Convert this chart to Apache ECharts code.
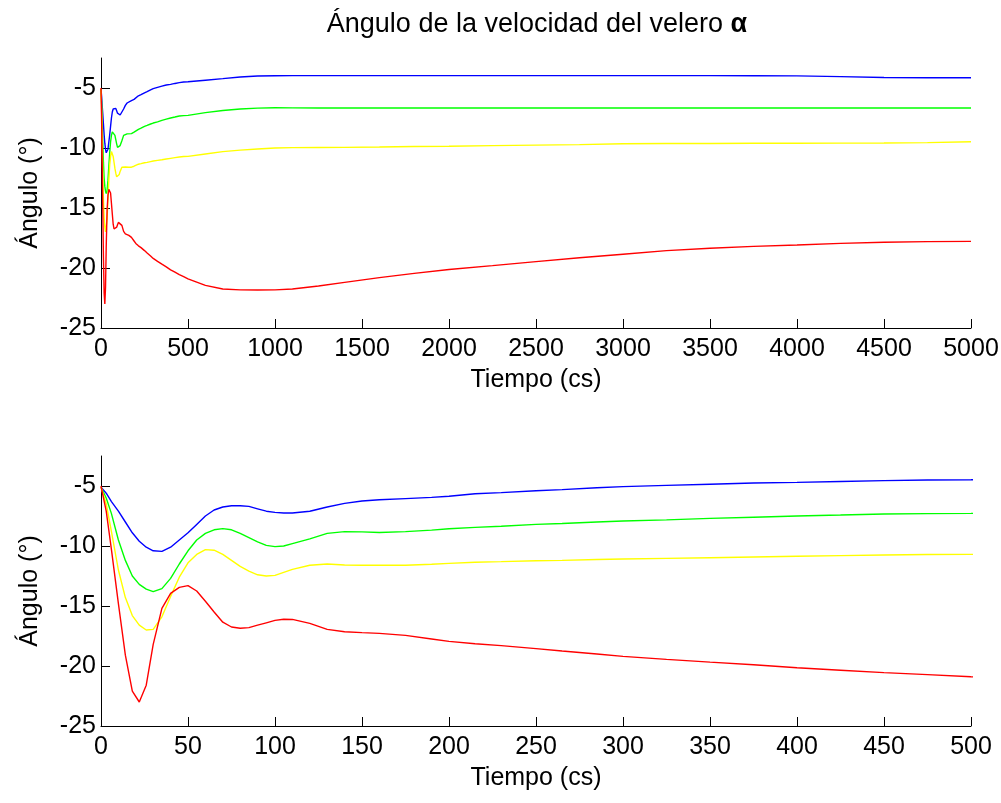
<!DOCTYPE html>
<html>
<head>
<meta charset="utf-8">
<script src="https://cdn.jsdelivr.net/npm/echarts@6/dist/echarts.min.js"></script>
<style>
html,body{margin:0;padding:0;background:#fff;}
#chart{width:1001px;height:803px;}
</style>
</head>
<body>
<div id="chart"></div>
<script>
// time (cs)
const time = [0,3,6,10,14,18,22,26,30,35,40,45,50,55,60,65,70,75,80,85,90,95,100,105,110,120,130,140,150,160,175,190,200,215,230,250,265,285,300,325,350,375,400,425,450,475,500,600,700,800,900,1000,1100,1250,1400,1600,1800,2000,2250,2500,2750,3000,3250,3500,3750,4000,4250,4500,4750,5000];

const blue = [-5.1,-5.6,-6.3,-7.1,-8.0,-8.9,-9.6,-10.1,-10.4,-10.45,-10.1,-9.5,-8.9,-8.2,-7.5,-7.0,-6.75,-6.65,-6.65,-6.7,-6.9,-7.1,-7.2,-7.25,-7.25,-7.1,-6.75,-6.45,-6.25,-6.15,-6.05,-5.95,-5.85,-5.65,-5.55,-5.4,-5.3,-5.15,-5.05,-4.95,-4.85,-4.75,-4.7,-4.62,-4.55,-4.5,-4.48,-4.35,-4.22,-4.08,-4.0,-3.98,-3.97,-3.97,-3.97,-3.97,-3.97,-3.97,-3.97,-3.97,-3.97,-3.97,-3.97,-3.97,-3.98,-3.99,-4.05,-4.12,-4.14,-4.14];

const green = [-5.1,-6.0,-7.3,-9.5,-11.2,-12.5,-13.2,-13.6,-13.8,-13.55,-12.7,-11.5,-10.4,-9.5,-8.95,-8.65,-8.55,-8.65,-8.95,-9.3,-9.65,-9.95,-10.05,-10.0,-9.8,-9.4,-8.95,-8.8,-8.82,-8.88,-8.8,-8.68,-8.56,-8.45,-8.35,-8.2,-8.12,-8.0,-7.92,-7.82,-7.7,-7.6,-7.5,-7.42,-7.33,-7.3,-7.28,-7.05,-6.88,-6.75,-6.68,-6.65,-6.66,-6.67,-6.67,-6.67,-6.67,-6.67,-6.67,-6.67,-6.67,-6.67,-6.67,-6.67,-6.67,-6.67,-6.67,-6.67,-6.67,-6.67];

const yellow = [-5.1,-6.5,-8.8,-12.0,-14.3,-15.8,-16.6,-17.0,-16.95,-15.9,-14.2,-12.6,-11.4,-10.7,-10.3,-10.35,-10.7,-11.2,-11.7,-12.1,-12.4,-12.5,-12.45,-12.2,-11.95,-11.6,-11.5,-11.58,-11.6,-11.6,-11.6,-11.52,-11.45,-11.35,-11.3,-11.23,-11.2,-11.13,-11.08,-11.03,-10.98,-10.92,-10.86,-10.8,-10.75,-10.71,-10.7,-10.5,-10.3,-10.18,-10.08,-10.0,-9.97,-9.96,-9.95,-9.92,-9.88,-9.85,-9.8,-9.76,-9.72,-9.65,-9.63,-9.62,-9.61,-9.6,-9.59,-9.58,-9.55,-9.48];

const red = [-5.0,-7.1,-10.3,-14.8,-19.1,-22.1,-23.0,-21.6,-18.2,-15.2,-13.95,-13.45,-13.3,-13.75,-14.6,-15.5,-16.35,-16.75,-16.85,-16.8,-16.6,-16.4,-16.2,-16.1,-16.12,-16.45,-16.95,-17.15,-17.22,-17.28,-17.45,-17.75,-17.95,-18.15,-18.3,-18.55,-18.75,-19.0,-19.2,-19.45,-19.68,-19.9,-20.15,-20.35,-20.55,-20.72,-20.9,-21.45,-21.75,-21.82,-21.83,-21.82,-21.75,-21.5,-21.2,-20.8,-20.45,-20.12,-19.8,-19.47,-19.15,-18.85,-18.55,-18.35,-18.2,-18.08,-17.95,-17.85,-17.8,-17.78];

const yTicks = [-25,-20,-15,-10,-5];
const xTicksTop = [0,500,1000,1500,2000,2500,3000,3500,4000,4500,5000];
const xTicksBottom = [0,50,100,150,200,250,300,350,400,450,500];

const seriesDefs = [
  {name:'azul', values: blue, color:'#0000ff'},
  {name:'verde', values: green, color:'#00ff00'},
  {name:'amarillo', values: yellow, color:'#ffff00'},
  {name:'rojo', values: red, color:'#ff0000'}
];

const tickFont = "'Liberation Sans', Arial, sans-serif";
const labelFont = "'Liberation Sans', Arial, sans-serif";

function xAxisCfg(idx, ticks){
  return {
    type:'value', gridIndex: idx, min: ticks[0], max: ticks[ticks.length-1],
    name: 'Tiempo (cs)', nameLocation:'middle', nameGap: 40,
    nameTextStyle:{color:'#000', fontFamily: labelFont, fontSize: 25},
    axisLine:{show:true, onZero:false, lineStyle:{color:'#000', width:1}},
    axisTick:{show:true, inside:true, length:9, customValues: ticks, lineStyle:{color:'#000'}},
    axisLabel:{show:true, customValues: ticks, margin:9, color:'#000', fontFamily: tickFont, fontSize: 25,
      formatter: v => String(v)},
    splitLine:{show:false}
  };
}
function yAxisCfg(idx){
  return {
    type:'value', gridIndex: idx, min: -25, max: -2.5,
    name: 'Ángulo (°)', nameLocation:'middle', nameGap: 58,
    nameTextStyle:{color:'#000', fontFamily: labelFont, fontSize: 25},
    axisLine:{show:true, onZero:false, lineStyle:{color:'#000', width:1}},
    axisTick:{show:true, inside:true, length:9, customValues: yTicks, lineStyle:{color:'#000'}},
    axisLabel:{show:true, customValues: yTicks, margin:5, color:'#000', fontFamily: tickFont, fontSize: 25,
      formatter: v => String(v)},
    splitLine:{show:false}
  };
}

const series = [];
[0,1].forEach(g => {
  seriesDefs.forEach(s => {
    series.push({
      type:'line', name: s.name, xAxisIndex: g, yAxisIndex: g,
      data: time.map((t,i)=>[t, s.values[i]]),
      showSymbol:false, symbol:'none', smooth:false, clip:true,
      lineStyle:{color: s.color, width: 1.4},
      itemStyle:{color: s.color},
      animation:false
    });
  });
});

const chart = echarts.init(document.getElementById('chart'), null, {renderer:'canvas'});
chart.setOption({
  backgroundColor:'#fff',
  animation:false,
  title:{
    text:'{a|Ángulo de la velocidad del velero }{b|α}',
    left: 532, top: 6, textAlign:'center',
    textStyle:{
      fontWeight:'normal',
      rich:{
        a:{fontFamily: labelFont, fontSize: 27, fontWeight:'normal', color:'#000'},
        b:{fontFamily: labelFont, fontSize: 27, fontWeight:'bold', color:'#000'}
      }
    }
  },
  grid:[
    {left:101, top:58, width:870, height:270, containLabel:false, outerBoundsMode:'none'},
    {left:101, top:456, width:870, height:270, containLabel:false, outerBoundsMode:'none'}
  ],
  xAxis:[xAxisCfg(0, xTicksTop), xAxisCfg(1, xTicksBottom)],
  yAxis:[yAxisCfg(0), yAxisCfg(1)],
  series: series
});
</script>
</body>
</html>
